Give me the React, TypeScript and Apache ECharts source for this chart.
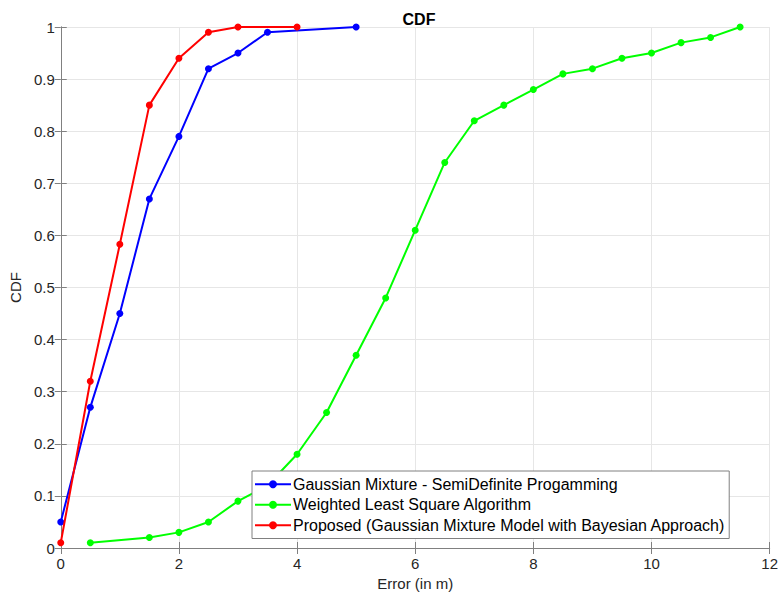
import React, { useEffect, useRef } from "react";
import * as echarts from "echarts";

const gmsdpX = [0, 0.5, 1, 1.5, 2, 2.5, 3, 3.5, 5];
const gmsdpY = [0.05, 0.27, 0.45, 0.67, 0.79, 0.92, 0.95, 0.99, 1.0];

const wlsX = [0.5, 1.5, 2, 2.5, 3, 3.5, 4, 4.5, 5, 5.5, 6, 6.5, 7, 7.5, 8, 8.5, 9, 9.5, 10, 10.5, 11, 11.5];
const wlsY = [0.01, 0.02, 0.03, 0.05, 0.09, 0.12, 0.18, 0.26, 0.37, 0.48, 0.61, 0.74, 0.82, 0.85, 0.88, 0.91, 0.92, 0.94, 0.95, 0.97, 0.98, 1.0];

const propX = [0, 0.5, 1, 1.5, 2, 2.5, 3, 4];
const propY = [0.01, 0.32, 0.583, 0.85, 0.94, 0.99, 1.0, 1.0];

const seriesNames = [
  "Gaussian Mixture - SemiDefinite Progamming",
  "Weighted Least Square Algorithm",
  "Proposed (Gaussian Mixture Model with Bayesian Approach)",
];
const seriesColors = ["#0000ff", "#00ff00", "#ff0000"];

const zip = (xs: number[], ys: number[]) => xs.map((x, i) => [x, ys[i]]);

export default function App() {
  const ref = useRef<HTMLDivElement>(null);
  useEffect(() => {
    if (!ref.current) return;
    const chart = echarts.init(ref.current, null, { renderer: "svg" });
    const font = "Arial, 'Liberation Sans', Helvetica, sans-serif";
    const axisColor = "#808080";
    const labelColor = "#262626";
    const datasets = [zip(gmsdpX, gmsdpY), zip(wlsX, wlsY), zip(propX, propY)];
    chart.setOption({
      animation: false,
      backgroundColor: "#ffffff",
      title: {
        text: "CDF",
        left: 414,
        top: 6,
        textAlign: "center",
        textStyle: { fontFamily: font, fontSize: 16, fontWeight: "bold", color: "#000" },
      },
      grid: { left: 57, right: 9, top: 27, bottom: 49, containLabel: false },
      legend: {
        orient: "vertical",
        left: 252,
        top: 471,
        backgroundColor: "#ffffff",
        borderColor: "#808080",
        borderWidth: 1,
        padding: [3, 4, 3, 2],
        itemGap: 0,
        itemWidth: 36,
        itemHeight: 10,
        textStyle: { fontFamily: font, fontSize: 16, color: "#000", lineHeight: 20.5, padding: [0, 0, 0, -3] },
        data: seriesNames,
      },
      xAxis: [
        {
          type: "value",
          min: 0,
          max: 12,
          interval: 2,
          name: "Error (in m)",
          nameLocation: "middle",
          nameGap: 22,
          nameTextStyle: { fontFamily: font, fontSize: 15, color: labelColor },
          axisLine: { show: true, onZero: false, lineStyle: { color: axisColor, width: 1 } },
          axisTick: { show: true, inside: true, length: 6, lineStyle: { color: axisColor } },
          axisLabel: { fontFamily: font, fontSize: 15, color: labelColor, margin: 8 },
          splitLine: { show: true, lineStyle: { color: "#e6e6e6", width: 1 } },
        },
        {
          type: "value",
          position: "top",
          min: 0,
          max: 12,
          interval: 2,
          axisLine: { show: true, lineStyle: { color: axisColor, width: 1 } },
          axisTick: { show: true, inside: true, length: 6, lineStyle: { color: axisColor } },
          axisLabel: { show: false },
          splitLine: { show: false },
        },
      ],
      yAxis: [
        {
          type: "value",
          min: 0,
          max: 1,
          interval: 0.1,
          name: "CDF",
          nameLocation: "middle",
          nameGap: 32,
          nameTextStyle: { fontFamily: font, fontSize: 15, color: labelColor },
          axisLine: { show: true, onZero: false, lineStyle: { color: axisColor, width: 1 } },
          axisTick: { show: true, inside: true, length: 6, lineStyle: { color: axisColor } },
          axisLabel: {
            fontFamily: font,
            fontSize: 15,
            color: labelColor,
            margin: 6,
            formatter: (v: number) => String(Math.round(v * 10) / 10),
          },
          splitLine: { show: true, lineStyle: { color: "#e6e6e6", width: 1 } },
        },
        {
          type: "value",
          position: "right",
          min: 0,
          max: 1,
          interval: 0.1,
          axisLine: { show: true, lineStyle: { color: axisColor, width: 1 } },
          axisTick: { show: true, inside: true, length: 6, lineStyle: { color: axisColor } },
          axisLabel: { show: false },
          splitLine: { show: false },
        },
      ],
      series: datasets.map((d, i) => ({
        name: seriesNames[i],
        type: "line",
        data: d,
        xAxisIndex: 0,
        yAxisIndex: 0,
        symbol: "circle",
        symbolSize: 7,
        showAllSymbol: true,
        lineStyle: { color: seriesColors[i], width: 2 },
        itemStyle: { color: seriesColors[i] },
        emphasis: { disabled: true },
        z: 2 + i,
      })),
    });
    return () => chart.dispose();
  }, []);
  return (
    <div
      ref={ref}
      style={{ position: "fixed", left: 0, top: 0, width: 781, height: 597, background: "#fff" }}
    />
  );
}
